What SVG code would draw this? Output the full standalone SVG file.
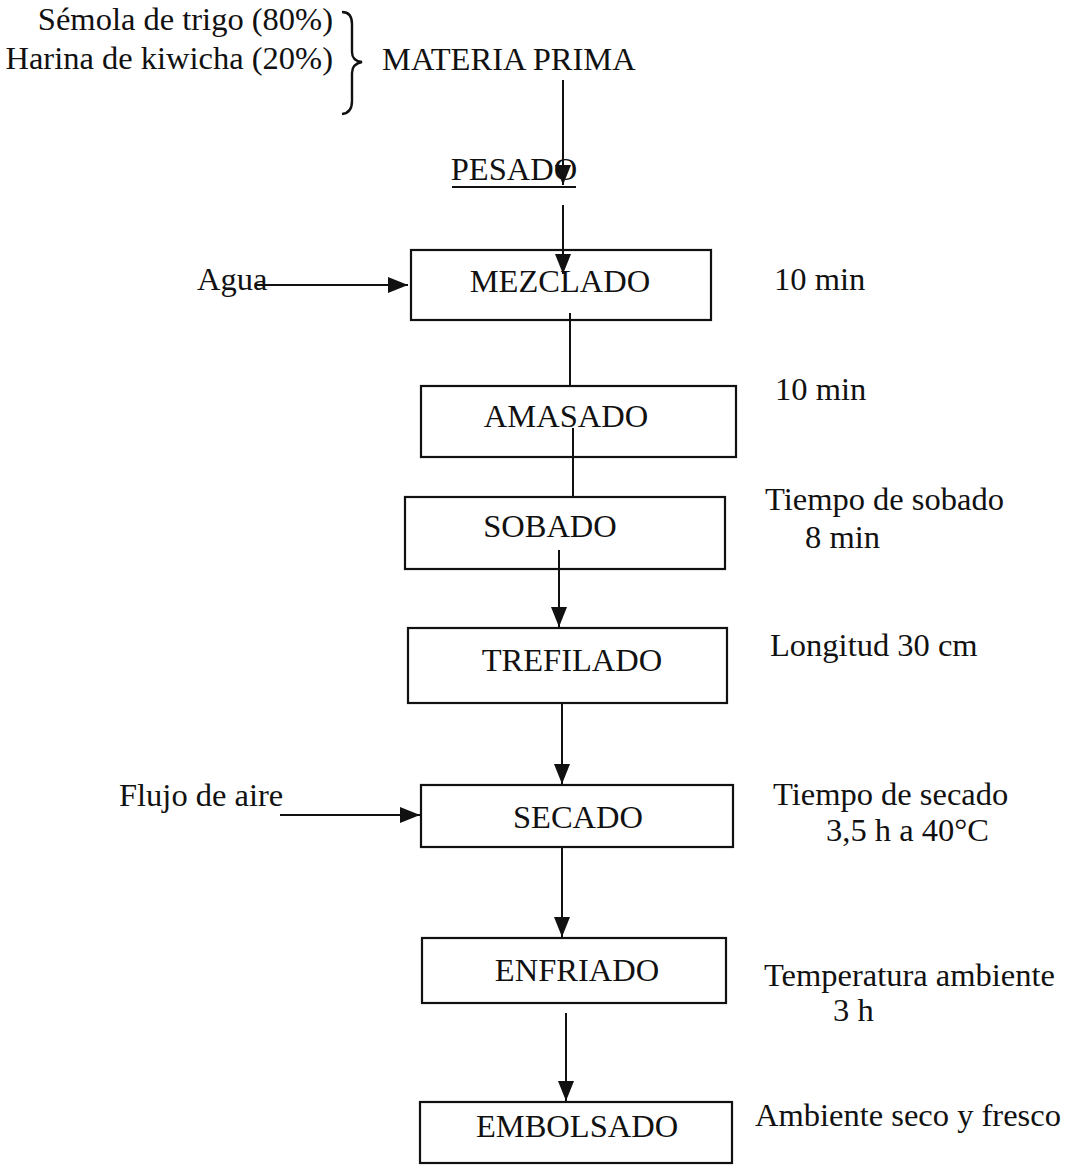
<svg xmlns="http://www.w3.org/2000/svg" width="1065" height="1165" viewBox="0 0 1065 1165">
<style>
text{font-family:"Liberation Serif","Times New Roman",serif;font-size:32.5px;fill:#111}
.box{fill:#fff;stroke:#111;stroke-width:2.2}
.ln{stroke:#111;stroke-width:2;fill:none}
.lbl{text-anchor:middle}
</style>
<defs>
<marker id="ah" markerWidth="20" markerHeight="16" refX="20" refY="8" orient="auto" markerUnits="userSpaceOnUse"><path d="M0,0 L20,8 L0,16 z" fill="#111"/></marker>
</defs>
<rect width="1065" height="1165" fill="#fff"/>
<g id="materia-prima">
<text x="333" y="30" text-anchor="end">Sémola de trigo (80%)</text>
<text x="333" y="69" text-anchor="end">Harina de kiwicha (20%)</text>
<path class="ln" style="stroke-width:2.4" d="M342,12 Q352,12 352,24 L352,52 Q352,61 362,62 Q352,64 352,73 L352,101 Q352,113 342,114"/>
<text x="382" y="70">MATERIA PRIMA</text>
</g>
<g id="pesado">
<text x="514" y="180" class="lbl">PESADO</text>
<line class="ln" x1="452" y1="187" x2="576" y2="187"/>
</g>
<g id="mezclado"><rect class="box" x="411" y="250" width="300" height="70"/><text x="560" y="292" class="lbl">MEZCLADO</text></g>
<g id="amasado"><rect class="box" x="421" y="386" width="315" height="71"/><text x="566" y="427" class="lbl">AMASADO</text></g>
<g id="sobado"><rect class="box" x="405" y="497" width="320" height="72"/><text x="550" y="537" class="lbl">SOBADO</text></g>
<g id="trefilado"><rect class="box" x="408" y="628" width="319" height="75"/><text x="572" y="671" class="lbl">TREFILADO</text></g>
<g id="secado"><rect class="box" x="421" y="785" width="312" height="62"/><text x="578" y="828" class="lbl">SECADO</text></g>
<g id="enfriado"><rect class="box" x="422" y="938" width="304" height="65"/><text x="577" y="981" class="lbl">ENFRIADO</text></g>
<g id="embolsado"><rect class="box" x="420" y="1102" width="312" height="61"/><text x="577" y="1137" class="lbl">EMBOLSADO</text></g>
<g id="inputs">
<text x="197" y="290">Agua</text>
<text x="119" y="806">Flujo de aire</text>
</g>
<g id="notes">
<text x="774" y="290">10 min</text>
<text x="775" y="400">10 min</text>
<text x="765" y="510">Tiempo de sobado</text>
<text x="805" y="548">8 min</text>
<text x="770" y="656">Longitud 30 cm</text>
<text x="773" y="805">Tiempo de secado</text>
<text x="826" y="841">3,5 h a 40°C</text>
<text x="764" y="986">Temperatura ambiente</text>
<text x="833" y="1021">3 h</text>
<text x="755" y="1126">Ambiente seco y fresco</text>
</g>
<g id="connectors">
<line class="ln" x1="563" y1="80" x2="563" y2="185" marker-end="url(#ah)"/>
<line class="ln" x1="563" y1="205" x2="563" y2="274" marker-end="url(#ah)"/>
<line class="ln" x1="255" y1="285" x2="408" y2="285" marker-end="url(#ah)"/>
<line class="ln" x1="570" y1="313" x2="570" y2="386"/>
<line class="ln" x1="573" y1="428" x2="573" y2="497"/>
<line class="ln" x1="559" y1="550" x2="559" y2="627" marker-end="url(#ah)"/>
<line class="ln" x1="562" y1="703" x2="562" y2="784" marker-end="url(#ah)"/>
<line class="ln" x1="280" y1="815" x2="420" y2="815" marker-end="url(#ah)"/>
<line class="ln" x1="562" y1="847" x2="562" y2="937" marker-end="url(#ah)"/>
<line class="ln" x1="566" y1="1013" x2="566" y2="1101" marker-end="url(#ah)"/>
</g>
</svg>
